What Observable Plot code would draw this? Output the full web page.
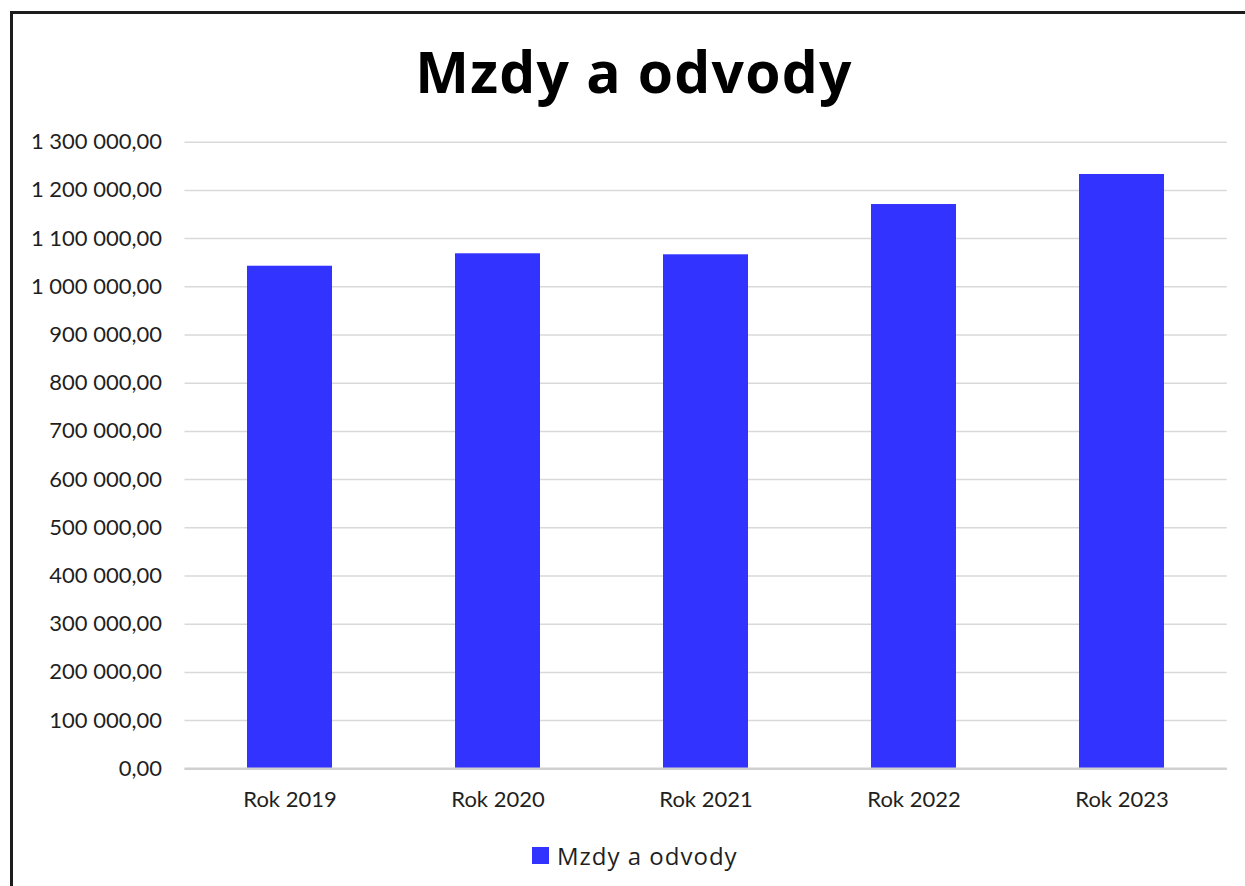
<!DOCTYPE html>
<html>
<head>
<meta charset="utf-8">
<script src="https://cdn.jsdelivr.net/npm/d3@7"></script>
<script src="https://cdn.jsdelivr.net/npm/@observablehq/plot@0.6"></script>
<style>
  html, body { margin: 0; padding: 0; background: #ffffff; }
  #wrap { position: relative; width: 1245px; height: 886px; overflow: hidden; background: #ffffff; font-family: Lato, "Open Sans", sans-serif; }
  #frame { position: absolute; left: 10px; top: 11px; width: 2000px; height: 2000px; border-left: 3px solid #1c1c1c; border-top: 3px solid #1c1c1c; box-sizing: border-box; }
  #chart { position: absolute; left: 0; top: 0; }
  #legend { position: absolute; left: 532px; top: 839px; }
  #legend svg { margin-right: 8px !important; }
</style>
</head>
<body>
<div id="wrap">
  <div id="frame"></div>
  <div id="chart"></div>
  <div id="legend"></div>
</div>
<script>
// ---- data ----
const titleText = "Mzdy a odvody";
const seriesName = "Mzdy a odvody";
const categories = ["Rok 2019", "Rok 2020", "Rok 2021", "Rok 2022", "Rok 2023"];
const values = [1042700, 1068500, 1066400, 1170700, 1233000];
const yTicks = [0, 100000, 200000, 300000, 400000, 500000, 600000, 700000, 800000, 900000, 1000000, 1100000, 1200000, 1300000];
const barColor = "#3333ff";

const data = categories.map((c, i) => ({category: c, value: values[i]}));

const locale = d3.formatLocale({decimal: ",", thousands: "\u00a0", grouping: [3], currency: ["", ""]});
const fmt = locale.format(",.2f");

const chart = Plot.plot({
  width: 1245,
  height: 886,
  marginLeft: 184.5,
  marginRight: 18.2,
  marginTop: 141.7,
  marginBottom: 117.7,
  style: {fontFamily: "Lato, 'Open Sans', sans-serif", fontSize: "22px", color: "#1f1f1f", background: "transparent", overflow: "visible"},
  x: {domain: categories, paddingInner: 0.59, paddingOuter: 0.295, label: null},
  y: {domain: [0, 1300000], label: null},
  marks: [
    Plot.gridY(yTicks, {stroke: "#d9d9d9", strokeOpacity: 1, strokeWidth: 1.5}),
    Plot.barY(data, {x: "category", y: "value", fill: barColor}),
    Plot.ruleY([0], {stroke: "#d0d0d0", strokeWidth: 2.5}),
    Plot.axisY(yTicks, {tickSize: 0, tickPadding: 23, tickFormat: fmt, fontSize: 22, label: null}),
    Plot.axisX({tickSize: 0, tickPadding: 23, fontSize: 22, label: null})
  ]
});
document.getElementById("chart").appendChild(chart);

d3.select(chart).append("text")
  .attr("x", 634).attr("y", 93.3)
  .attr("text-anchor", "middle")
  .attr("font-family", "'Open Sans', Lato, sans-serif")
  .attr("font-weight", "bold")
  .attr("font-size", 57)
  .attr("letter-spacing", "1.2px")
  .attr("fill", "#000000")
  .text(titleText);

const legend = Plot.legend({
  legend: "swatches",
  color: {domain: [seriesName], range: [barColor]},
  swatchSize: 17,
  style: {fontFamily: "'Open Sans', Lato, sans-serif", fontSize: "24px", letterSpacing: "1px", color: "#1f1f1f"}
});
document.getElementById("legend").appendChild(legend);
</script>
</body>
</html>
